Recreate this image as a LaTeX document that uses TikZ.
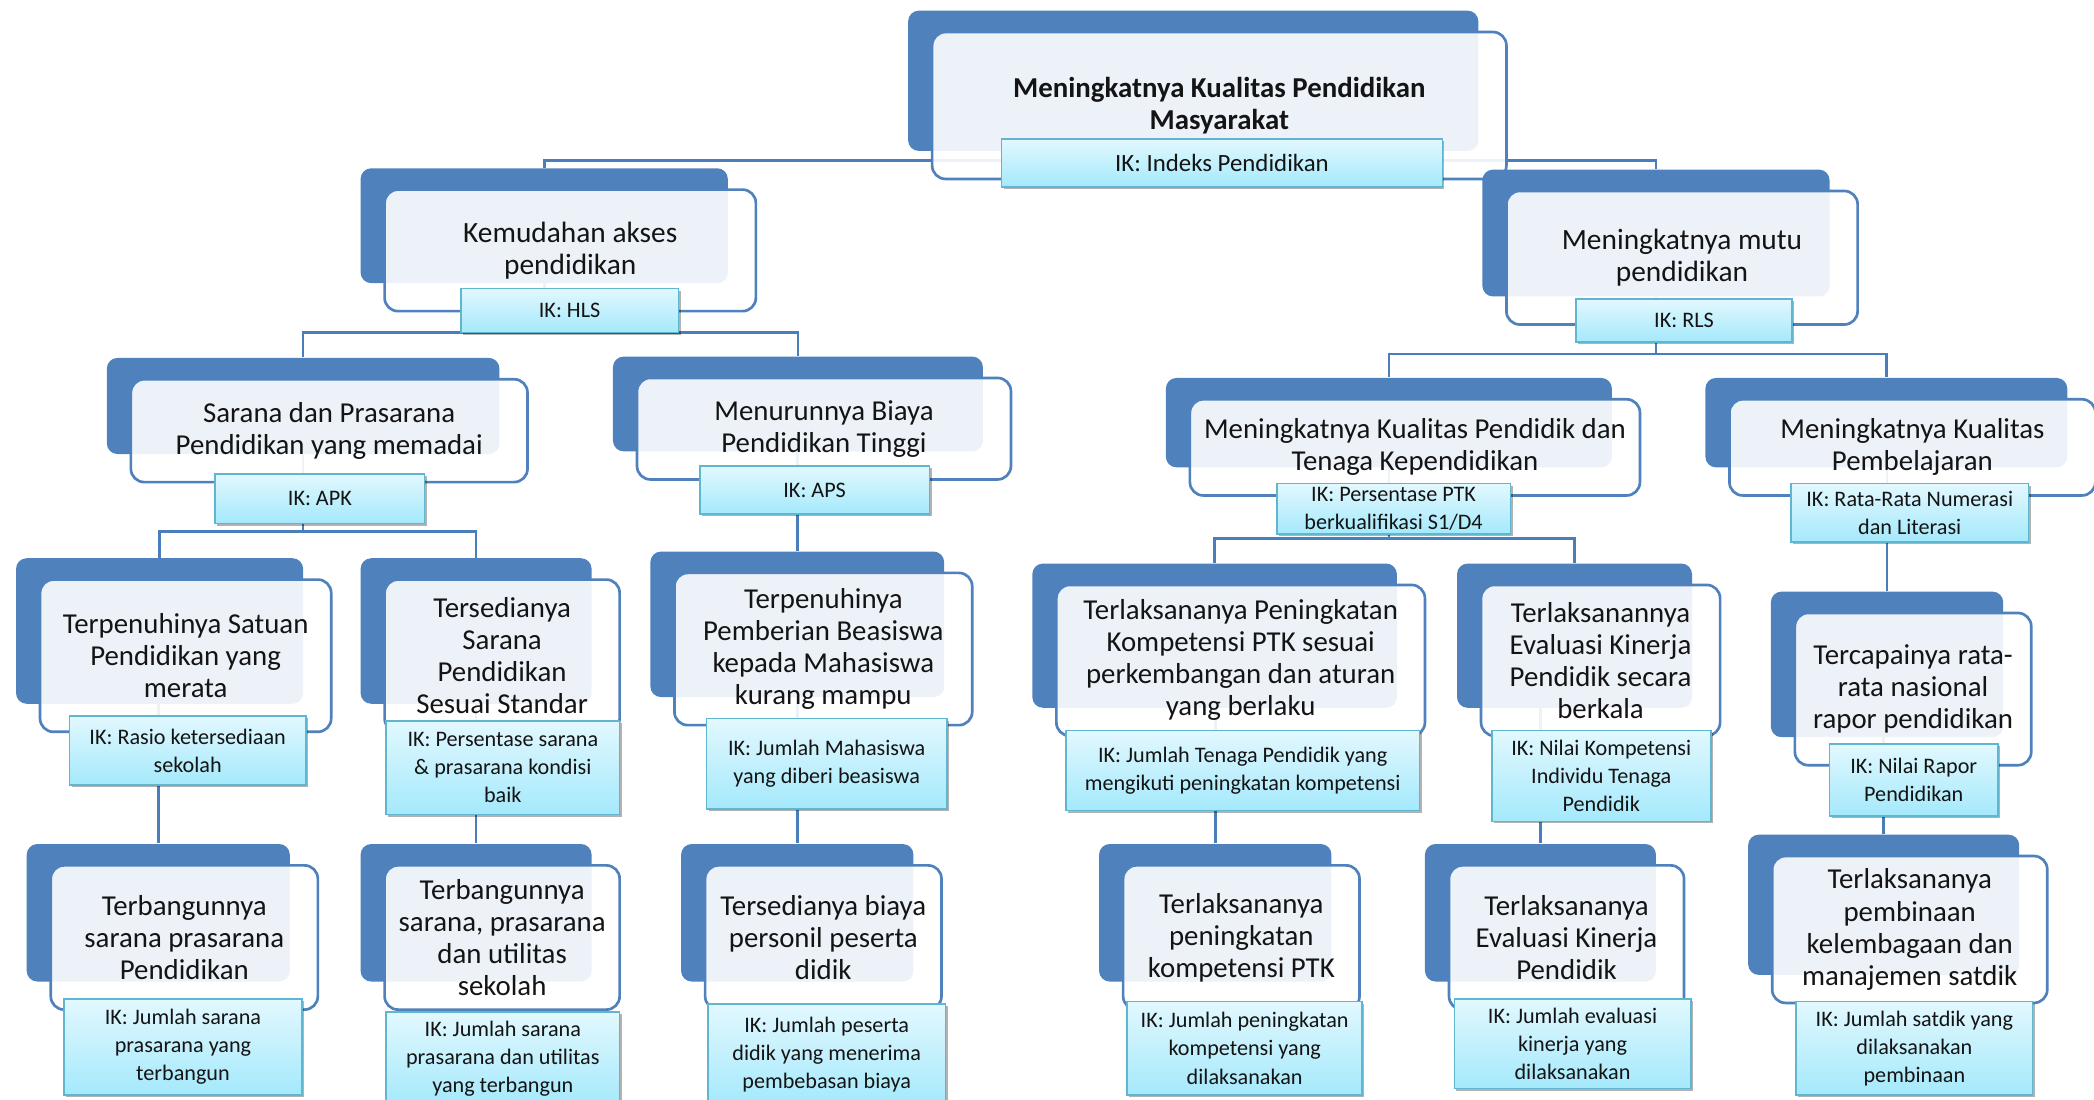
\documentclass[tikz,border=0pt]{standalone}
\usepackage{fontspec}
\setmainfont{Carlito}
\usetikzlibrary{shadows,backgrounds}

\definecolor{kotak}{RGB}{79,129,189}
\definecolor{garis}{RGB}{74,126,187}
\definecolor{ikatas}{RGB}{226,248,254}
\definecolor{ikbawah}{RGB}{164,233,252}
\definecolor{ikgaris}{RGB}{96,182,208}
\definecolor{teks}{RGB}{20,20,20}

\def\pxl{0.5pt}

\tikzset{
  latar/.style={fill=kotak, draw=none, rounded corners=4pt, inner sep=0pt},
  depan/.style={draw=kotak, line width=1pt, fill=white, fill opacity=0.9, text opacity=1,
    rounded corners=5pt, align=center, inner sep=2pt, text=teks,
    font=\fontsize{10.8}{12}\selectfont},
  ik/.style={draw=ikgaris, line width=0.6pt, top color=ikatas, bottom color=ikbawah,
    drop shadow={shadow xshift=0.8pt, shadow yshift=-0.8pt, opacity=0.3, fill=black},
    align=center, inner sep=1pt, text=teks, font=\fontsize{8.3}{10.5}\selectfont},
  hubung/.style={draw=garis, line width=1pt},
}

% back box, front box with title: [opts]{name}{x1}{y1}{x2}{y2}{text}
\newcommand{\sasaran}[7][]{%
  \node[latar, minimum width={(#5-#3)*\pxl}, minimum height={(#6-#4)*\pxl}] (#2-bg) at ({(#3+#5)/2},{(#4+#6)/2}) {};
  \node[depan, #1, minimum width={(#5-#3+3)*\pxl}, minimum height={(#6-#4+5)*\pxl}] (#2) at ({(#3+#5)/2+19.5},{(#4+#6)/2+18.5}) {#7};
}
% indicator box: [opts]{name}{x1}{y1}{x2}{y2}{text}
\newcommand{\indikator}[7][]{%
  \node[ik, #1, minimum width={(#5-#3)*\pxl}, minimum height={(#6-#4)*\pxl}] (#2-ik) at ({(#3+#5)/2},{(#4+#6)/2}) {#7};
}

\begin{document}
\begin{tikzpicture}[x=\pxl, y=-\pxl]
  \useasboundingbox (0,0) rectangle (1568,823);

  % level 0
  \sasaran[font=\bfseries\fontsize{10.8}{12}\selectfont]{akar}{680}{8}{1107}{113}{Meningkatnya Kualitas Pendidikan\\Masyarakat}
  \indikator[font=\fontsize{9.3}{11}\selectfont]{akar}{750}{104}{1080}{140}{IK: Indeks Pendidikan}

  % level 1
  \sasaran[font=\fontsize{11}{12}\selectfont]{kemudahan}{270}{126}{545}{212}{Kemudahan akses\\pendidikan}
  \indikator{kemudahan}{345}{216}{508}{249}{IK: HLS}
  \sasaran[font=\fontsize{11}{12}\selectfont]{mutu}{1110}{127}{1370}{222}{Meningkatnya mutu\\pendidikan}
  \indikator{mutu}{1180}{224}{1342}{256}{IK: RLS}

  % level 2
  \sasaran{sarana}{80}{268}{374}{340}{Sarana dan Prasarana\\Pendidikan yang memadai}
  \indikator{sarana}{161}{355}{318}{392}{IK: APK}
  \sasaran{biaya}{459}{267}{736}{338}{Menurunnya Biaya\\Pendidikan Tinggi}
  \indikator{biaya}{524}{349}{696}{385}{IK: APS}
  \sasaran{pendidik}{873}{283}{1207}{350}{Meningkatnya Kualitas Pendidik dan\\Tenaga Kependidikan}
  \indikator{pendidik}{956}{362}{1131}{400}{IK: Persentase PTK\\berkualifikasi S1/D4}
  \sasaran{pembelajaran}{1277}{283}{1548}{350}{Meningkatnya Kualitas\\Pembelajaran}
  \indikator{pembelajaran}{1341}{362}{1519}{406}{IK: Rata-Rata Numerasi\\dan Literasi}

  % level 3
  \sasaran{satuan}{12}{418}{227}{527}{Terpenuhinya Satuan\\Pendidikan yang\\merata}
  \indikator{satuan}{52}{536}{229}{588}{IK: Rasio ketersediaan\\sekolah}
  \sasaran{standar}{270}{418}{443}{527}{Tersedianya\\Sarana\\Pendidikan\\Sesuai Standar}
  \indikator{standar}{289}{540}{464}{610}{IK: Persentase sarana\\\& prasarana kondisi\\baik}
  \sasaran{beasiswa}{487}{413}{707}{522}{Terpenuhinya\\Pemberian Beasiswa\\kepada Mahasiswa\\kurang mampu}
  \indikator{beasiswa}{529}{538}{709}{606}{IK: Jumlah Mahasiswa\\yang diberi beasiswa}
  \sasaran{kompetensi}{773}{422}{1046}{530}{Terlaksananya Peningkatan\\Kompetensi PTK sesuai\\perkembangan dan aturan\\yang berlaku}
  \indikator{kompetensi}{798}{547}{1063}{607}{IK: Jumlah Tenaga Pendidik yang\\mengikuti peningkatan kompetensi}
  \sasaran{evaluasi}{1091}{422}{1267}{530}{Terlaksanannya\\Evaluasi Kinerja\\Pendidik secara\\berkala}
  \indikator{evaluasi}{1117}{547}{1281}{615}{IK: Nilai Kompetensi\\Individu Tenaga\\Pendidik}
  \sasaran{rapor}{1326}{443}{1500}{552}{Tercapainya rata-\\rata nasional\\rapor pendidikan}
  \indikator{rapor}{1370}{557}{1496}{611}{IK: Nilai Rapor\\Pendidikan}

  % level 4
  \sasaran{bangun}{20}{632}{217}{735}{Terbangunnya\\sarana prasarana\\Pendidikan}
  \indikator{bangun}{48}{748}{226}{820}{IK: Jumlah sarana\\prasarana yang\\terbangun}
  \sasaran{utilitas}{270}{632}{443}{735}{Terbangunnya\\sarana, prasarana\\dan utilitas\\sekolah}
  \indikator{utilitas}{289}{758}{464}{828}{IK: Jumlah sarana\\prasarana dan utilitas\\yang terbangun}
  \sasaran{personil}{510}{632}{684}{735}{Tersedianya biaya\\personil peserta\\didik}
  \indikator{personil}{530}{752}{708}{828}{IK: Jumlah peserta\\didik yang menerima\\pembebasan biaya}
  \sasaran{ptk}{823}{632}{997}{735}{Terlaksananya\\peningkatan\\kompetensi PTK}
  \indikator{ptk}{844}{750}{1020}{820}{IK: Jumlah peningkatan\\kompetensi yang\\dilaksanakan}
  \sasaran{kinerja}{1067}{632}{1240}{735}{Terlaksananya\\Evaluasi Kinerja\\Pendidik}
  \indikator{kinerja}{1089}{748}{1266}{815}{IK: Jumlah evaluasi\\kinerja yang\\dilaksanakan}
  \sasaran{satdik}{1309}{625}{1512}{730}{Terlaksananya\\pembinaan\\kelembagaan dan\\manajemen satdik}
  \indikator{satdik}{1345}{750}{1522}{820}{IK: Jumlah satdik yang\\dilaksanakan\\pembinaan}

  % connectors behind the boxes
  \begin{pgfonlayer}{background}
    \fill[white] (0,0) rectangle (1568,823);
    \coordinate (cab0) at (0,120);
    \coordinate (cab1) at (0,249);
    \coordinate (cab2) at (0,265);
    \coordinate (cab3) at (0,398);
    \coordinate (cab4) at (0,403);
    \draw[hubung] (akar-bg.center) -- (akar-bg.center |- cab0);
    \draw[hubung] (kemudahan-bg.north) -- (kemudahan-bg.north |- cab0) -- (mutu-bg.north |- cab0) -- (mutu-bg.north);
    \draw[hubung] (kemudahan-bg.center) -- (kemudahan-bg.center |- cab1);
    \draw[hubung] (sarana-bg.north) -- (sarana-bg.north |- cab1) -- (biaya-bg.north |- cab1) -- (biaya-bg.north);
    \draw[hubung] (mutu-bg.center) -- (mutu-bg.center |- cab2);
    \draw[hubung] (pendidik-bg.north) -- (pendidik-bg.north |- cab2) -- (pembelajaran-bg.north |- cab2) -- (pembelajaran-bg.north);
    \draw[hubung] (sarana-bg.center) -- (sarana-bg.center |- cab3);
    \draw[hubung] (satuan-bg.north) -- (satuan-bg.north |- cab3) -- (standar-bg.north |- cab3) -- (standar-bg.north);
    \draw[hubung] (pendidik-bg.center) -- (pendidik-bg.center |- cab4);
    \draw[hubung] (kompetensi-bg.north) -- (kompetensi-bg.north |- cab4) -- (evaluasi-bg.north |- cab4) -- (evaluasi-bg.north);
    \foreach \a/\b in {biaya/beasiswa, pembelajaran/rapor, satuan/bangun, standar/utilitas,
                       beasiswa/personil, kompetensi/ptk, evaluasi/kinerja, rapor/satdik}
      \draw[hubung] (\b-bg.north) -- (\b-bg.north |- \a-bg.center);
  \end{pgfonlayer}
\end{tikzpicture}
\end{document}
